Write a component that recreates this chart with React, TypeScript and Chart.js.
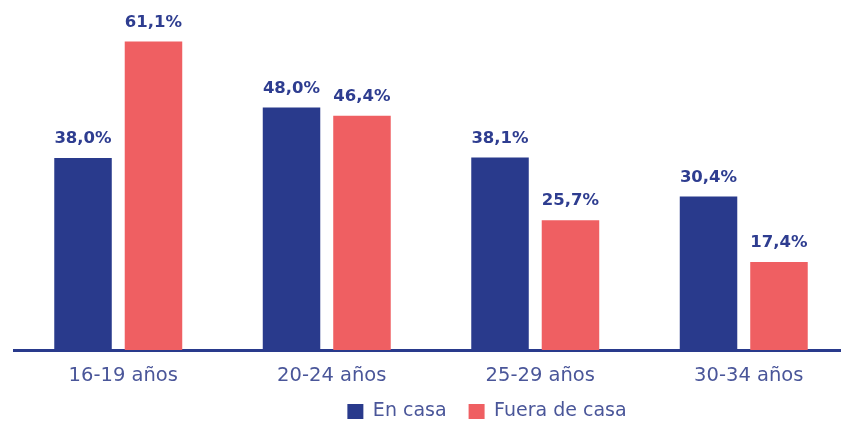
import React, { useEffect, useRef } from 'react';
import { Chart, registerables } from 'chart.js';

Chart.register(...registerables);

const categories = ['16-19 años', '20-24 años', '25-29 años', '30-34 años'];
const seriesNames = ['En casa', 'Fuera de casa'];
const enCasa = [38.0, 48.0, 38.1, 30.4];
const fueraDeCasa = [61.1, 46.4, 25.7, 17.4];

const BLUE = '#293a8c';
const RED = '#ef5f62';
const LABEL_BLUE = '#2e3d90';
const TICK_COLOR = '#4a5699';

const W = 850;
const H = 421;
const AREA_BOTTOM = 350;

const fmt = (v: number) => v.toFixed(1).replace('.', ',') + '%';

const valueLabels = {
  id: 'valueLabels',
  afterDatasetsDraw(chart: any) {
    const ctx = chart.ctx;
    ctx.save();
    ctx.font = 'bold 16.5px "DejaVu Sans"';
    ctx.fillStyle = LABEL_BLUE;
    ctx.textAlign = 'center';
    ctx.textBaseline = 'middle';
    chart.data.datasets.forEach((ds: any, i: number) => {
      const meta = chart.getDatasetMeta(i);
      meta.data.forEach((el: any, j: number) => {
        ctx.fillText(fmt(ds.data[j]), el.x, el.y - 19);
      });
    });
    ctx.restore();
  },
};

const legendPlace = {
  id: 'legendPlace',
  afterLayout(chart: any) {
    const lg = chart.legend;
    if (lg) {
      const pad = lg.options.labels.padding;
      const top = 411.5 - pad - 9.5;
      lg.top = top;
      lg.bottom = top + lg.height;
      lg.left += 112;
    }
    const x = chart.scales.x;
    if (x) {
      x.bottom = x.top + 45;
      x.height = 45;
    }
  },
};

export default function App() {
  const ref = useRef<HTMLCanvasElement | null>(null);
  useEffect(() => {
    if (!ref.current) return;
    const chart = new Chart(ref.current, {
      type: 'bar',
      data: {
        labels: categories,
        datasets: [
          {
            label: seriesNames[0],
            data: enCasa,
            backgroundColor: BLUE,
            categoryPercentage: 0.676,
            barPercentage: 0.816,
          },
          {
            label: seriesNames[1],
            data: fueraDeCasa,
            backgroundColor: RED,
            categoryPercentage: 0.676,
            barPercentage: 0.816,
          },
        ],
      },
      options: {
        responsive: false,
        animation: false,
        devicePixelRatio: 1,
        layout: { padding: { left: 14, right: 2, top: 0, bottom: 0 } },
        plugins: {
          tooltip: { enabled: false },
          legend: {
            position: 'bottom',
            labels: {
              font: { family: 'DejaVu Sans', size: 19 },
              color: TICK_COLOR,
              boxWidth: 16,
              boxHeight: 15,
              padding: 22,
            },
          },
        },
        scales: {
          x: {
            grid: { display: false, drawTicks: false },
            border: { display: true, color: BLUE, width: 3 },
            ticks: {
              padding: 14,
              labelOffset: 5,
              color: TICK_COLOR,
              font: { family: 'DejaVu Sans', size: 19.5 },
            },
            afterFit: (s: any) => {
              const lh = s.chart.legend ? s.chart.legend.height : 0;
              s.height = Math.max(0, H - lh - AREA_BOTTOM);
            },
          },
          y: {
            display: false,
            min: 0,
            max: 69.3,
          },
        },
      },
      plugins: [valueLabels, legendPlace],
    });
    return () => chart.destroy();
  }, []);

  return (
    <div
      style={{
        position: 'fixed',
        left: 0,
        top: 0,
        width: 841,
        height: 421,
        overflow: 'hidden',
        background: '#fff',
      }}
    >
      <canvas ref={ref} width={W} height={H} style={{ display: 'block' }} />
    </div>
  );
}
